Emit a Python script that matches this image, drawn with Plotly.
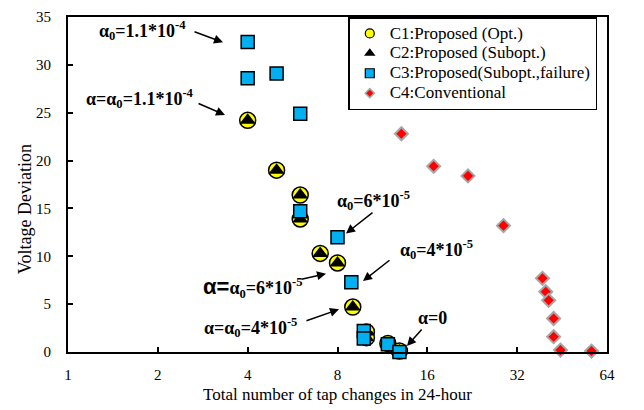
import math
import plotly.graph_objects as go

# Tap changes (x) and voltage deviation (y) for each control case
c1_taps = [4, 5, 6, 6, 7, 8, 9, 10, 10, 11.8, 12.9]
c1_vdev = [24.2, 19.0, 16.4, 13.9, 10.3, 9.3, 4.7, 2.1, 1.5, 0.9, 0.1]

c2_taps = [4, 5, 6, 6, 7, 8, 9, 10, 10, 11.8, 12.9]
c2_vdev = [24.2, 19.0, 16.4, 13.9, 10.3, 9.3, 4.7, 2.1, 1.5, 0.9, 0.1]

c3_taps = [4, 4, 5, 6, 6, 8, 8.9, 9.8, 9.8, 11.8, 12.9]
c3_vdev = [32.4, 28.6, 29.1, 24.9, 14.7, 12.0, 7.3, 2.2, 1.4, 0.8, 0.0]

c4_taps = [13.1, 16.8, 21.9, 28.8, 38.9, 39.9, 40.8, 42.4, 42.4, 44.7, 56.8]
c4_vdev = [22.8, 19.4, 18.4, 13.2, 7.7, 6.3, 5.4, 3.5, 1.6, 0.2, 0.1]

series_names = [
    "C1:Proposed (Opt.)",
    "C2:Proposed (Subopt.)",
    "C3:Proposed(Subopt.,failure)",
    "C4:Conventional",
]

x_tickvals = [1, 2, 4, 8, 16, 32, 64]
y_tickvals = [0, 5, 10, 15, 20, 25, 30, 35]

SERIF = "Liberation Serif, Times New Roman, serif"
YELLOW = "#FFFF00"
BLUE = "#00B0F0"
RED = "#FF0000"
GREY = "#A6A6A6"

styles = [
    dict(symbol="circle", size=16, color=YELLOW, line=dict(color="black", width=1.5)),
    dict(symbol="triangle-up", size=14, color="black", line=dict(color="black", width=0)),
    dict(symbol="square", size=13, color=BLUE, line=dict(color="black", width=1.5)),
    dict(symbol="diamond", size=10, color=RED, line=dict(color=GREY, width=2)),
]
legend_styles = [
    dict(symbol="circle", size=9, color=YELLOW, line=dict(color="black", width=1.2)),
    dict(symbol="triangle-up", size=10, color="black", line=dict(color="black", width=0)),
    dict(symbol="square", size=9, color=BLUE, line=dict(color="black", width=1.2)),
    dict(symbol="diamond", size=7, color=RED, line=dict(color=GREY, width=1.5)),
]

data = [(c1_taps, c1_vdev), (c2_taps, c2_vdev), (c3_taps, c3_vdev), (c4_taps, c4_vdev)]

fig = go.Figure()
for (xs, ys), name, st in zip(data, series_names, styles):
    fig.add_trace(go.Scatter(x=xs, y=ys, mode="markers", name=name, marker=st,
                             showlegend=False, cliponaxis=False))
# compact legend entries: tight row spacing, slightly larger lettering
for name, st in zip(series_names, legend_styles):
    fig.add_trace(go.Scatter(x=[None], y=[None], mode="markers", marker=st,
                             name='<span style="font-size:17px">' + name + "</span>"))

# pixel geometry of the plotting area, used to offset labels from their targets
L, R, T, B = 68, 37, 9, 56
W, H = 644, 410
PW, PH = W - L - R, H - T - B
XMAX_LOG = math.log10(64)


def px(xv, yv):
    return (L + PW * math.log10(xv) / XMAX_LOG, T + PH * (1 - yv / 35.0))


def label(target, text_c, tail, tip, text):
    tx, ty = target
    gx, gy = px(tx, ty)
    fig.add_annotation(x=math.log10(tx), y=ty, xref="x", yref="y", text=text,
                       showarrow=False, xshift=text_c[0] - gx, yshift=gy - text_c[1],
                       font=dict(family=SERIF, size=18, color="black"))
    fig.add_annotation(x=math.log10(tx), y=ty, xref="x", yref="y", text="",
                       showarrow=True, arrowhead=2, arrowsize=1.2, arrowwidth=1.5,
                       arrowcolor="black", xshift=tip[0] - gx, yshift=gy - tip[1],
                       ax=tail[0] - tip[0], ay=tail[1] - tip[1])


label((c3_taps[0], c3_vdev[0]), (142, 23), (193, 24), (223, 35),
      "<b>α<sub>0</sub>=1.1*10<sup>-4</sup></b>")
label((c1_taps[0], c1_vdev[0]), (140, 94), (197, 98), (225, 110),
      "<b>α=α<sub>0</sub>=1.1*10<sup>-4</sup></b>")
label((c3_taps[5], c3_vdev[5]), (373, 199), (374, 210), (346, 232),
      "<b>α<sub>0</sub>=6*10<sup>-5</sup></b>")
label((c3_taps[6], c3_vdev[6]), (436, 249), (391, 259), (363, 281),
      "<b>α<sub>0</sub>=4*10<sup>-5</sup></b>")
label((c1_taps[5], c1_vdev[5]), (252, 287), (300, 279), (326, 273),
      '<span style="font-family:Liberation Sans;font-size:22px"><b>α=</b></span>'
      "<b>α<sub>0</sub>=6*10<sup>-5</sup></b>")
label((c1_taps[6], c1_vdev[6]), (251, 328), (305, 322), (339, 310),
      "<b>α=α<sub>0</sub>=4*10<sup>-5</sup></b>")
label((c1_taps[10], c1_vdev[10]), (433, 320), (423, 330), (407, 348),
      "<b>α=0</b>")

# vertical axis title, sitting slightly below the middle of the axis
fig.add_annotation(text="Voltage Deviation", xref="paper", yref="paper",
                   x=(25 - L) / PW, y=1 - (207 - T) / PH, showarrow=False,
                   textangle=-90, xanchor="center", yanchor="middle",
                   font=dict(family=SERIF, size=18, color="black"))

axis_common = dict(showline=True, linecolor="black", linewidth=2, mirror=True,
                   ticks="inside", ticklen=5, tickwidth=1.5, tickcolor="black",
                   showgrid=False, zeroline=False,
                   tickfont=dict(family=SERIF, size=15, color="black"))

fig.update_xaxes(type="log", range=[0, XMAX_LOG], tickvals=x_tickvals,
                 ticktext=[str(v) for v in x_tickvals], ticklabelstandoff=8,
                 title_text="Total number of tap changes in 24-hour", title_standoff=6,
                 title_font=dict(family=SERIF, size=17, color="black"),
                 **axis_common)
fig.update_yaxes(range=[0, 35], tickvals=y_tickvals, ticklabelstandoff=12,
                 **axis_common)

fig.update_layout(
    width=W, height=H,
    margin=dict(l=L, r=R, t=T, b=B),
    paper_bgcolor="white", plot_bgcolor="white",
    legend=dict(x=0.52, y=1, xanchor="left", yanchor="top",
                bgcolor="white", bordercolor="black", borderwidth=1.5,
                font=dict(family=SERIF, size=13, color="black"),
                tracegroupgap=0, itemwidth=30),
)

fig.write_html("out.html")
